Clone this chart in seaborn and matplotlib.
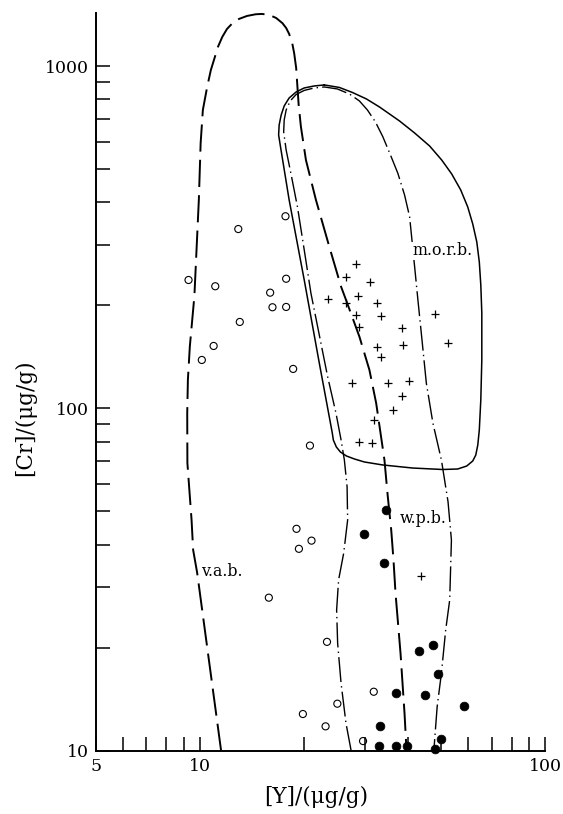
import matplotlib
matplotlib.use("Agg")
import matplotlib.pyplot as plt
import seaborn as sns
import pandas as pd
from matplotlib.ticker import FixedLocator, FixedFormatter, NullFormatter

# ---- sample analyses: Y and Cr contents (µg/g) ----
# open circles
arc_y = [17.7, 12.92, 9.27, 11.08, 17.78, 15.98, 16.23, 17.78, 13.05, 10.96, 10.13, 18.63,
         20.84, 19.05, 21.06, 19.36, 15.84, 23.35, 31.9, 25.02, 19.88, 23.13, 29.7]
arc_cr = [364.5, 334.5, 237.4, 227.6, 239.4, 218.0, 197.6, 198.0, 179.0, 152.3, 138.6, 130.5,
          77.9, 44.5, 41.1, 38.9, 28.0, 20.8, 14.87, 13.72, 12.8, 11.78, 10.67]

# filled circles
plate_y = [34.7, 29.9, 34.1, 43.0, 47.3, 49.0, 36.96, 44.8, 58.3, 33.3, 49.9, 33.0, 37.1, 39.9, 48.0]
plate_cr = [50.4, 43.0, 35.4, 19.5, 20.4, 16.75, 14.71, 14.55, 13.48, 11.83, 10.84, 10.32,
            10.3, 10.3, 10.1]

# crosses
ridge_y = [28.35, 26.45, 31.13, 23.56, 26.58, 28.7, 32.54, 28.31, 33.5, 28.9, 38.6, 47.96,
           32.54, 38.8, 52.35, 33.5, 27.6, 35.1, 40.3, 38.4, 36.3, 32.0, 28.93, 31.6, 43.7]
ridge_cr = [264.5, 241.7, 234.8, 208.9, 203.0, 212.8, 203.4, 187.0, 185.7, 173.4, 171.3, 188.5,
            151.6, 152.8, 155.7, 141.1, 118.4, 118.7, 120.1, 109.0, 98.7, 92.8, 80.0, 79.4, 32.3]

# ---- field boundaries ----
# volcanic-arc basalts (long dashes, open at the base)
vab_y = [11.52, 10.62, 9.82, 9.56, 9.46, 9.20, 9.19, 9.23, 9.35, 9.64, 9.93, 10.05, 10.20,
         10.50, 10.76, 11.06, 11.28, 11.61, 11.98, 12.41, 12.98, 13.70, 14.52, 15.14, 15.87,
         16.63, 17.35, 17.78, 18.14, 18.51, 18.76, 19.01, 19.17, 19.33, 19.62, 20.29,
         21.69, 23.71, 25.65, 26.51, 28.99, 30.99, 32.42, 34.26, 35.03, 35.84, 36.39, 36.89,
         38.14, 39.17, 39.70]
vab_cr = [10.0, 18.4, 33.1, 38.6, 47.2, 69.3, 96.8, 121.1, 151.6, 213.2, 406.8, 595.7, 745.0,
          871.6, 975.4, 1067, 1139, 1218, 1285, 1334, 1375, 1403, 1419, 1422, 1413,
          1384, 1336, 1294, 1243, 1170, 1091, 988.6, 871.6, 770.8, 666.0, 532.0,
          406.8, 297.1, 227.0, 207.6, 162.1, 129.6, 103.6, 70.7, 55.3, 44.2, 36.1, 28.8,
          19.26, 12.86, 10.0]

# mid-ocean ridge basalts (solid, closed)
morb_y = [22.94, 25.36, 27.66, 30.38, 33.14, 37.89, 41.89, 46.31, 50.19, 53.66, 56.99, 59.72,
          61.75, 63.44, 64.51, 65.16, 65.60, 65.60, 65.16, 64.51, 63.86, 63.01, 61.75, 59.32,
          55.85, 50.50, 41.34, 33.81, 29.97, 28.03, 26.58, 25.53, 24.85, 24.36, 24.19, 22.18,
          20.06, 18.14, 17.09, 16.91, 16.97, 17.20, 17.55, 18.14, 19.01, 20.06, 21.45, 22.94]
morb_cr = [881.9, 867.1, 838.4, 802.5, 760.4, 692.0, 638.4, 584.8, 532.3, 484.5, 435.0, 388.0,
           346.1, 306.6, 268.0, 229.6, 190.1, 138.6, 105.9, 86.5, 78.2, 73.1, 70.24, 67.9,
           66.55, 66.33, 66.99, 68.4, 69.77, 71.2, 72.65, 74.63, 77.2, 80.9, 84.8, 135.8,
           237.4, 406.8, 588.9, 630.0, 673.8, 720.6, 765.6, 808.0, 841.2, 864.2, 875.9, 881.9]

# within-plate basalts (dash-dot, open at the base)
wpb_y = [27.43, 26.51, 25.65, 25.07, 24.90, 25.23, 26.10, 26.80, 26.70, 26.22, 25.65, 24.80,
         23.45, 20.98, 20.06, 19.17, 18.35, 17.78, 17.49, 17.55, 17.78, 18.27, 19.01, 20.06,
         21.45, 22.94, 25.02, 27.12, 28.99, 30.58, 32.26, 33.88, 35.66, 37.46, 39.18, 40.52,
         41.90, 42.83, 44.11, 45.31, 47.35, 50.10, 52.36, 53.56, 52.95, 51.55, 50.10, 48.70,
         47.89, 47.64]
wpb_cr = [10.0, 12.02, 15.74, 20.6, 25.77, 31.55, 37.76, 47.23, 59.1, 70.7, 80.9, 96.8,
          123.9, 217.1, 290.6, 388.8, 486.8, 569.2, 642.8, 696.8, 745.2, 791.8, 827.2, 850.0,
          864.2, 870.0, 858.4, 830.0, 791.8, 745.2, 687.5, 622.8, 550.5, 486.8, 420.6, 363.5,
          259.7, 207.6, 155.1, 118.5, 90.5, 70.7, 53.42, 41.27, 27.57, 22.53, 16.84, 13.45,
          10.75, 10.0]

field_names = ["v.a.b.", "m.o.r.b.", "w.p.b."]
field_label_y = [11.61, 50.35, 44.29]
field_label_cr = [33.5, 288.6, 47.54]

# ---- axis ticks ----
x_major = [5, 10, 100]
x_labels = ["5", "10", "100"]
x_minor = [6, 7, 8, 9, 20, 30, 40, 50, 60, 70, 80, 90]
y_major = [10, 100, 1000]
y_labels = ["10", "100", "1000"]
y_minor = [20, 30, 40, 50, 60, 70, 80, 90, 200, 300, 400, 500, 600, 700, 800, 900]

sns.set_style("ticks")
plt.rcParams["font.family"] = ["DejaVu Serif", "DejaVu Sans"]

fig = plt.figure(figsize=(5.63, 8.14), dpi=100)
ax = fig.add_axes([96 / 563, 63.3 / 814, 449 / 563, 737.7 / 814])
ax.set_xscale("log")
ax.set_yscale("log")

# field outlines
sns.lineplot(data=pd.DataFrame({"Y": vab_y, "Cr": vab_cr}), x="Y", y="Cr", sort=False,
             estimator=None, color="black", lw=1.4, linestyle=(0, (14, 4.2)), ax=ax)
sns.lineplot(data=pd.DataFrame({"Y": morb_y, "Cr": morb_cr}), x="Y", y="Cr", sort=False,
             estimator=None, color="black", lw=1.1, ax=ax)
sns.lineplot(data=pd.DataFrame({"Y": wpb_y, "Cr": wpb_cr}), x="Y", y="Cr", sort=False,
             estimator=None, color="black", lw=1.0, linestyle=(0, (18, 3, 1, 3)), ax=ax)

# samples
sns.scatterplot(x=arc_y, y=arc_cr, marker="o", s=26, facecolor="none", edgecolor="black",
                linewidth=0.8, clip_on=False, zorder=3, ax=ax)
sns.scatterplot(x=plate_y, y=plate_cr, marker="o", s=40, color="black", edgecolor="black",
                linewidth=0.5, clip_on=False, zorder=3, ax=ax)
sns.scatterplot(x=ridge_y, y=ridge_cr, marker="+", s=28, color="black", linewidth=0.9,
                zorder=3, ax=ax)

for name, lx, ly in zip(field_names, field_label_y, field_label_cr):
    ax.text(lx, ly, name, ha="center", va="center", fontsize=11.3, color="black",
            bbox=dict(facecolor="white", edgecolor="none", pad=0.5), zorder=4)

ax.set_xlim(5, 100)
ax.set_ylim(10, 1431)

ax.xaxis.set_major_locator(FixedLocator(x_major))
ax.xaxis.set_major_formatter(FixedFormatter(x_labels))
ax.xaxis.set_minor_locator(FixedLocator(x_minor))
ax.xaxis.set_minor_formatter(NullFormatter())
ax.yaxis.set_major_locator(FixedLocator(y_major))
ax.yaxis.set_major_formatter(FixedFormatter(y_labels))
ax.yaxis.set_minor_locator(FixedLocator(y_minor))
ax.yaxis.set_minor_formatter(NullFormatter())

ax.tick_params(which="both", direction="in", length=10, width=1.1, color="black",
               labelsize=12.5, labelcolor="black", pad=5, top=False, right=False)
sns.despine(ax=ax)
for side in ("left", "bottom"):
    ax.spines[side].set_linewidth(1.4)
    ax.spines[side].set_color("black")

ax.set_xlabel("[Y]/(μg/g)", fontsize=15.5, color="black")
ax.set_ylabel("[Cr]/(μg/g)", fontsize=15.5, color="black")
ax.xaxis.set_label_coords(0.49, -0.0628)
ax.yaxis.set_label_coords(-0.158, 0.452)
ax.xaxis.label.set_va("center")
ax.yaxis.label.set_va("center")

fig.savefig("out.png", dpi=100, facecolor="white")
